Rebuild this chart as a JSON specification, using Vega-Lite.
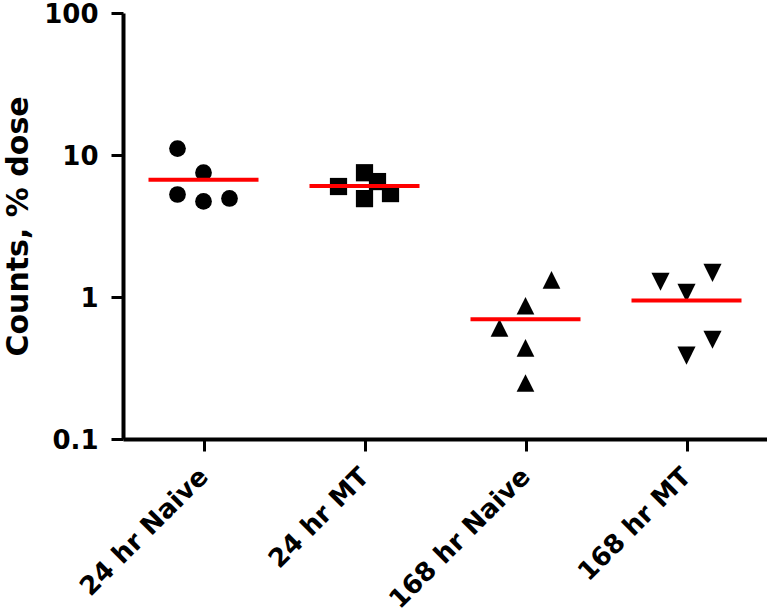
{
  "$schema": "https://vega.github.io/schema/vega-lite/v6.json",
  "width": 644,
  "height": 426,
  "autosize": "none",
  "padding": {"left": 123, "top": 13, "right": 0, "bottom": 174},
  "config": {
    "view": {"stroke": null},
    "font": "DejaVu Sans",
    "axis": {
      "grid": false,
      "domainColor": "black",
      "domainWidth": 4,
      "tickColor": "black",
      "tickWidth": 3,
      "tickSize": 12,
      "labelFont": "DejaVu Sans",
      "labelFontWeight": "bold",
      "labelFontSize": 26,
      "labelColor": "black",
      "labelLimit": 0,
      "titleFont": "DejaVu Sans",
      "titleFontWeight": "bold",
      "titleColor": "black"
    }
  },
  "data": {
    "values": [
      {"group": "24 hr Naive", "value": 11.1, "slot": -2},
      {"group": "24 hr Naive", "value": 7.5, "slot": 0},
      {"group": "24 hr Naive", "value": 5.27, "slot": -2},
      {"group": "24 hr Naive", "value": 4.71, "slot": 0},
      {"group": "24 hr Naive", "value": 4.94, "slot": 2},
      {"group": "24 hr MT", "value": 6.0, "slot": -2},
      {"group": "24 hr MT", "value": 7.5, "slot": 0},
      {"group": "24 hr MT", "value": 6.5, "slot": 1},
      {"group": "24 hr MT", "value": 4.93, "slot": 0},
      {"group": "24 hr MT", "value": 5.35, "slot": 2},
      {"group": "168 hr Naive", "value": 1.32, "slot": 2},
      {"group": "168 hr Naive", "value": 0.868, "slot": 0},
      {"group": "168 hr Naive", "value": 0.607, "slot": -2},
      {"group": "168 hr Naive", "value": 0.438, "slot": 0},
      {"group": "168 hr Naive", "value": 0.248, "slot": 0},
      {"group": "168 hr MT", "value": 1.28, "slot": -2},
      {"group": "168 hr MT", "value": 1.48, "slot": 2},
      {"group": "168 hr MT", "value": 1.07, "slot": 0},
      {"group": "168 hr MT", "value": 0.5, "slot": 2},
      {"group": "168 hr MT", "value": 0.386, "slot": 0}
    ]
  },
  "encoding": {
    "x": {
      "field": "group",
      "type": "nominal",
      "sort": ["24 hr Naive", "24 hr MT", "168 hr Naive", "168 hr MT"],
      "scale": {"type": "point", "padding": 0.5},
      "axis": {
        "title": null,
        "labelAngle": -45,
        "labelAlign": "right",
        "labelBaseline": "middle",
        "labelPadding": 21
      }
    },
    "y": {
      "field": "value",
      "type": "quantitative",
      "scale": {"type": "log", "domain": [0.1, 100]},
      "axis": {
        "title": "Counts, % dose",
        "titleFontSize": 30,
        "titlePadding": 10,
        "values": [0.1, 1, 10, 100],
        "format": "~g",
        "labelPadding": 13,
        "labelBaseline": "alphabetic",
        "labelOffset": 9.5
      }
    }
  },
  "layer": [
    {
      "mark": {"type": "point", "filled": true, "opacity": 1, "color": "black"},
      "encoding": {
        "xOffset": {
          "field": "slot",
          "type": "quantitative",
          "scale": {"domain": [-2, 2], "range": [-26, 26]}
        },
        "shape": {
          "field": "group",
          "type": "nominal",
          "scale": {
            "domain": ["24 hr Naive", "24 hr MT", "168 hr Naive", "168 hr MT"],
            "range": ["circle", "square", "M0,-1L1,1L-1,1Z", "M0,1L1,-1L-1,-1Z"]
          },
          "legend": null
        },
        "size": {
          "field": "group",
          "type": "nominal",
          "scale": {
            "domain": ["24 hr Naive", "24 hr MT", "168 hr Naive", "168 hr MT"],
            "range": [280, 330, 320, 320]
          },
          "legend": null
        }
      }
    },
    {
      "mark": {"type": "tick", "color": "#ff0000", "size": 110, "thickness": 4, "opacity": 1},
      "encoding": {
        "y": {"aggregate": "mean", "field": "value", "type": "quantitative"}
      }
    }
  ]
}
